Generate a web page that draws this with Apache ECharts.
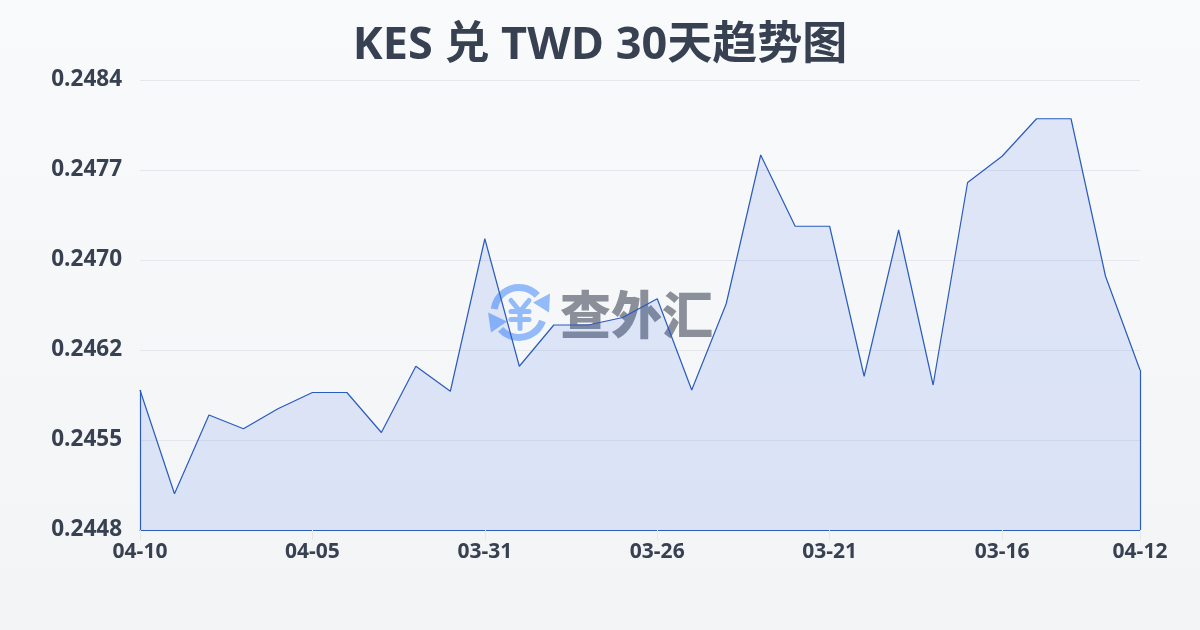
<!DOCTYPE html>
<html><head><meta charset="utf-8">
<style>html,body{margin:0;padding:0;background:#f9fafb}#c{width:1200px;height:630px}</style>
<script src="https://cdn.jsdelivr.net/npm/echarts@6/dist/echarts.min.js"></script></head>
<body><div id="c"></div>
<script>
const titleText = 'KES 兑 TWD 30天趋势图';
const categories = ['04-10','04-09','04-08','04-07','04-06','04-05','04-04','04-03','04-02','04-01','03-31','03-30','03-29','03-28','03-27','03-26','03-25','03-24','03-23','03-22','03-21','03-20','03-19','03-18','03-17','03-16','03-15','03-14','03-13','04-12'];
const rates = [0.24592,0.24509,0.24572,0.24561,0.24577,0.24590,0.24590,0.24558,0.24611,0.24591,0.24713,0.24611,0.24644,0.24644,0.24650,0.24665,0.24592,0.24661,0.24780,0.24723,0.24723,0.24603,0.24720,0.24596,0.24758,0.24779,0.24809,0.24809,0.24683,0.24608];
const yMin = 0.2448, yMax = 0.2484, yStep = 0.00072;
const ink = '#374151', lineBlue = '#2a5bbf', logoBlue = '#93bbf9', font = '"Open Sans","Noto Sans CJK SC",sans-serif';
const chart = echarts.init(document.getElementById('c'));
const first = categories[0], last = categories[categories.length-1];
const showTick = (i)=>i%5===0||i===categories.length-1;
const yenStroke = {stroke:logoBlue,lineWidth:5,lineCap:'round',lineJoin:'round',fill:null};
const ringStroke = {stroke:logoBlue,lineWidth:7,fill:null};
chart.setOption({
  animation:false,
  backgroundColor:new echarts.graphic.LinearGradient(0,0,0,1,[{offset:0,color:'#f9fafb'},{offset:1,color:'#f3f4f6'}]),
  title:{text:titleText,left:'center',top:19,textStyle:{fontFamily:font,fontSize:45,fontWeight:'bold',color:ink}},
  grid:{left:140,right:60,top:80,bottom:100},
  xAxis:{type:'category',boundaryGap:false,data:categories,
    axisLine:{show:true,lineStyle:{color:lineBlue,width:1.2}},
    axisTick:{show:true,length:10,lineStyle:{color:'#e5e7eb'},alignWithLabel:true,interval:showTick},
    axisLabel:{interval:showTick,color:ink,fontFamily:font,fontSize:21,fontWeight:'bold',margin:12},
    splitLine:{show:false}},
  yAxis:{type:'value',min:yMin,max:yMax,interval:yStep,
    axisLine:{show:false},axisTick:{show:false},
    axisLabel:{formatter:(v)=>v.toFixed(4),color:ink,fontFamily:font,fontSize:22.5,fontWeight:'bold',margin:18,verticalAlign:'middle'},
    splitLine:{lineStyle:{color:'#e5e7eb',width:1}}},
  series:[{type:'line',data:rates,symbol:'none',smooth:false,z:3,
    lineStyle:{color:lineBlue,width:1.2},
    areaStyle:{color:'rgba(37,99,235,0.175)'},
    markLine:{silent:true,symbol:'none',label:{show:false},emphasis:{disabled:true},lineStyle:{color:lineBlue,width:1.2,type:'solid'},
      data:[[{xAxis:first,yAxis:yMin},{xAxis:first,yAxis:rates[0]}],[{xAxis:last,yAxis:yMin},{xAxis:last,yAxis:rates[rates.length-1]}]]}}],
  graphic:[{type:'group',left:488,top:284,z:1,silent:true,children:[
    {type:'arc',shape:{cx:32,cy:30,r:25,startAngle:-3,endAngle:-0.75},style:ringStroke},
    {type:'arc',shape:{cx:32,cy:30,r:25,startAngle:0.35,endAngle:2.4},style:ringStroke},
    {type:'polygon',shape:{points:[[63,11],[62,30],[46,20]]},style:{fill:logoBlue}},
    {type:'polygon',shape:{points:[[1,30],[4,50],[20,39]]},style:{fill:logoBlue}},
    {type:'polyline',shape:{points:[[24,18],[33,29],[42,18]]},style:yenStroke},
    {type:'line',shape:{x1:33,y1:29,x2:33,y2:46},style:yenStroke},
    {type:'line',shape:{x1:24,y1:29,x2:42,y2:29},style:yenStroke},
    {type:'line',shape:{x1:24,y1:37,x2:42,y2:37},style:yenStroke},
    {type:'text',style:{x:73,y:32,text:'查外汇',verticalAlign:'middle',fill:'#8a8f99',font:'900 51px "Noto Sans CJK SC"'}}
  ]}]
});
</script></body></html>
